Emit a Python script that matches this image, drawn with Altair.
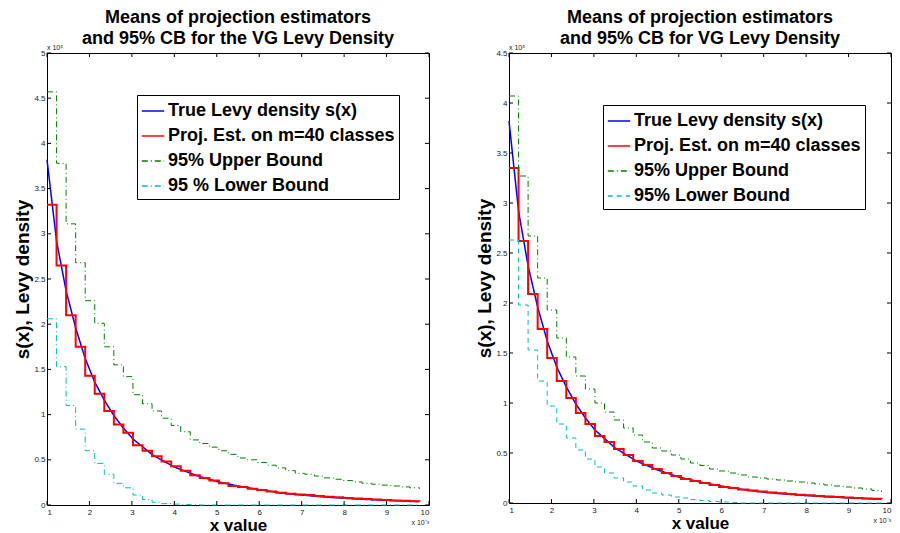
import altair as alt
import pandas as pd

FONT = "Liberation Sans"

# class left edges (m = 40 classes on [1, 10] x 1e-3)
x_cls = [1.0, 1.225, 1.45, 1.675, 1.9, 2.125, 2.35, 2.575, 2.8, 3.025,
         3.25, 3.475, 3.7, 3.925, 4.15, 4.375, 4.6, 4.825, 5.05, 5.275,
         5.5, 5.725, 5.95, 6.175, 6.4, 6.625, 6.85, 7.075, 7.3, 7.525,
         7.75, 7.975, 8.2, 8.425, 8.65, 8.875, 9.1, 9.325, 9.55, 9.775]

# true density sample points
x_true = [1.0, 1.225, 1.45, 1.675, 1.9, 2.125, 2.35, 2.575, 2.8, 3.025,
          3.5, 4.0, 4.5, 5.0, 5.5, 6.0, 6.5, 7.0, 7.5, 8.0, 8.5, 9.0, 9.5, 9.775]

# ---- left panel (values x 1e5)
left_true = [3.82, 2.92, 2.37, 1.96, 1.62, 1.36, 1.16, 0.99, 0.85, 0.73,
             0.55, 0.42, 0.33, 0.26, 0.21, 0.17, 0.135, 0.11, 0.09, 0.075,
             0.062, 0.052, 0.043, 0.038]
left_est = [3.32, 2.65, 2.10, 1.75, 1.43, 1.23, 1.04, 0.89, 0.80, 0.66,
            0.60, 0.54, 0.48, 0.43, 0.38, 0.33, 0.30, 0.27, 0.24, 0.21,
            0.20, 0.18, 0.165, 0.15, 0.135, 0.125, 0.115, 0.11, 0.10, 0.09,
            0.085, 0.078, 0.072, 0.066, 0.06, 0.055, 0.05, 0.046, 0.042, 0.038]
left_up = [4.57, 3.78, 3.11, 2.68, 2.26, 2.01, 1.75, 1.55, 1.42, 1.22,
           1.12, 1.04, 0.96, 0.88, 0.81, 0.72, 0.68, 0.64, 0.60, 0.56,
           0.52, 0.50, 0.47, 0.44, 0.41, 0.38, 0.35, 0.34, 0.32, 0.30,
           0.285, 0.27, 0.255, 0.24, 0.23, 0.22, 0.21, 0.20, 0.19, 0.18]
left_lo = [2.06, 1.53, 1.10, 0.84, 0.60, 0.46, 0.34, 0.24, 0.19, 0.11,
           0.06, 0.03, 0.015, 0.01, 0.005, 0.002, 0.0, 0.0, 0.0, 0.0,
           0.0, 0.0, 0.0, 0.0, 0.0, 0.0, 0.0, 0.0, 0.0, 0.0,
           0.0, 0.0, 0.0, 0.0, 0.0, 0.0, 0.0, 0.0, 0.0, 0.0]

# ---- right panel (values x 1e5)
right_true = [3.82, 2.92, 2.37, 1.96, 1.62, 1.36, 1.16, 0.99, 0.85, 0.73,
              0.55, 0.42, 0.33, 0.26, 0.21, 0.17, 0.135, 0.11, 0.09, 0.075,
              0.062, 0.052, 0.043, 0.038]
right_est = [3.35, 2.62, 2.09, 1.74, 1.45, 1.22, 1.05, 0.90, 0.79, 0.67,
             0.61, 0.54, 0.48, 0.42, 0.38, 0.34, 0.30, 0.27, 0.24, 0.22,
             0.20, 0.18, 0.16, 0.15, 0.135, 0.125, 0.115, 0.105, 0.098, 0.09,
             0.083, 0.077, 0.071, 0.065, 0.06, 0.055, 0.05, 0.046, 0.042, 0.04]
right_up = [4.07, 3.27, 2.67, 2.25, 1.93, 1.65, 1.46, 1.27, 1.14, 1.00,
            0.91, 0.83, 0.75, 0.68, 0.61, 0.55, 0.52, 0.48, 0.44, 0.40,
            0.375, 0.34, 0.32, 0.30, 0.28, 0.26, 0.25, 0.24, 0.23, 0.22,
            0.21, 0.20, 0.19, 0.18, 0.17, 0.16, 0.15, 0.14, 0.125, 0.11]
right_lo = [2.63, 1.98, 1.53, 1.22, 0.97, 0.79, 0.65, 0.53, 0.44, 0.36,
            0.30, 0.25, 0.21, 0.17, 0.13, 0.10, 0.08, 0.06, 0.05, 0.035,
            0.025, 0.015, 0.01, 0.005, 0.0, 0.0, 0.0, 0.0, 0.0, 0.0,
            0.0, 0.0, 0.0, 0.0, 0.0, 0.0, 0.0, 0.0, 0.0, 0.0]

x_ticks = [1, 2, 3, 4, 5, 6, 7, 8, 9, 10]
left_yticks = [0, 0.5, 1, 1.5, 2, 2.5, 3, 3.5, 4, 4.5, 5]
right_yticks = [0, 0.5, 1, 1.5, 2, 2.5, 3, 3.5, 4, 4.5]

left_names = ["True Levy density s(x)", "Proj. Est. on m=40 classes",
              "95% Upper Bound", "95 % Lower Bound"]
right_names = ["True Levy density s(x)", "Proj. Est. on m=40 classes",
               "95% Upper Bound", "95% Lower Bound"]
left_title = ["Means of projection estimators", "and 95% CB for the VG Levy Density"]
right_title = ["Means of projection estimators", "and 95% CB for VG Levy Density"]

COLORS = ["#0000FF", "#FF0000", "#008000", "#00BFBF"]
DASHDOT = [6, 3, 1, 3]


def panel(names, ytrue, est, up, lo, ymax, yticks, lo_dash, title, lx, ly, W, H):
    rows = []
    for x, y in zip(x_true, ytrue):
        rows.append({"x": x, "y": y, "s": names[0]})
    for ser, vals in zip(names[1:], [est, up, lo]):
        for x, y in zip(x_cls, vals):
            rows.append({"x": x, "y": y, "s": ser})
    df = pd.DataFrame(rows)

    xs = alt.Scale(domain=[1, 10], nice=False, zero=False)
    ys = alt.Scale(domain=[0, ymax], nice=False)
    leg = alt.Legend(orient="none", legendX=lx, legendY=ly, title=None,
                     strokeColor="black", fillColor="white", padding=4,
                     labelFont=FONT, labelFontSize=18, labelFontWeight="bold",
                     labelColor="black", symbolType="stroke", symbolSize=500,
                     symbolStrokeWidth=1.5, rowPadding=4, labelOffset=3,
                     labelLimit=400)
    color = alt.Color("s:N", scale=alt.Scale(domain=names, range=COLORS), legend=leg)
    dash = alt.StrokeDash("s:N", scale=alt.Scale(domain=names,
                          range=[[1, 0], [1, 0], DASHDOT, lo_dash]), legend=leg)

    xaxis = alt.Axis(values=x_ticks, format="d", title="x value", titleFont=FONT,
                     titleFontSize=17, titleFontWeight="bold", titleColor="black",
                     labelFont=FONT, labelFontSize=8, labelColor="#222",
                     ticks=False, domain=False, grid=False, labelPadding=3,
                     titlePadding=1)
    yaxis = alt.Axis(values=yticks, format="~g", title="s(x), Levy density",
                     titleFont=FONT, titleFontSize=19, titleFontWeight="bold",
                     titleColor="black", labelFont=FONT, labelFontSize=8,
                     labelColor="#222", ticks=False, domain=False, grid=False,
                     labelPadding=2, titlePadding=1)

    layers = []
    for i, (ser, interp, sw) in enumerate(zip(names, ["linear", "step-after", "step-after", "step-after"],
                                               [1.5, 2, 1, 1])):
        enc = dict(
            x=alt.X("x:Q", scale=xs, axis=xaxis),
            y=alt.Y("y:Q", scale=ys, axis=yaxis),
            color=color, strokeDash=dash, order="x:Q")
        layers.append(alt.Chart(df).transform_filter(alt.datum.s == ser)
                      .mark_line(interpolate=interp, strokeWidth=sw).encode(**enc))

    xt = pd.DataFrame({"t": x_ticks})
    yt = pd.DataFrame({"t": yticks})
    TL = 4
    layers.append(alt.Chart(xt).mark_rule(color="black", strokeWidth=1).encode(
        x=alt.X("t:Q", scale=xs, axis=xaxis), y=alt.value(H), y2=alt.value(H - TL)))
    layers.append(alt.Chart(xt).mark_rule(color="black", strokeWidth=1).encode(
        x=alt.X("t:Q", scale=xs, axis=xaxis), y=alt.value(0), y2=alt.value(TL)))
    layers.append(alt.Chart(yt).mark_rule(color="black", strokeWidth=1).encode(
        y=alt.Y("t:Q", scale=ys, axis=yaxis), x=alt.value(0), x2=alt.value(TL)))
    layers.append(alt.Chart(yt).mark_rule(color="black", strokeWidth=1).encode(
        y=alt.Y("t:Q", scale=ys, axis=yaxis), x=alt.value(W), x2=alt.value(W - TL)))

    one = pd.DataFrame({"a": [0]})
    layers.append(alt.Chart(one).mark_text(font=FONT, fontSize=7, align="left",
                                           baseline="alphabetic", color="#222").encode(
        x=alt.value(0), y=alt.value(-3), text=alt.value("x 10⁵")))
    layers.append(alt.Chart(one).mark_text(font=FONT, fontSize=7, align="right",
                                           baseline="alphabetic", color="#222").encode(
        x=alt.value(W), y=alt.value(H + 20), text=alt.value("x 10⁻³")))

    return alt.layer(*layers).properties(
        width=W, height=H,
        title=alt.TitleParams(text=title, font=FONT, fontSize=18, fontWeight="bold",
                              color="black", anchor="middle", lineHeight=21, offset=-4))


left = panel(left_names, left_true, left_est, left_up, left_lo, 5, left_yticks,
             DASHDOT, left_title, 90, 42, 382, 452)
right = panel(right_names, right_true, right_est, right_up, right_lo, 4.5, right_yticks,
              [5, 4], right_title, 94, 52, 382, 450)

chart = alt.hconcat(left, right, spacing=45).resolve_scale(
    color="independent", strokeDash="independent"
).resolve_legend(color="independent", strokeDash="independent").properties(
    padding={"left": 5, "top": 0, "right": 0, "bottom": 0},
    background="white"
).configure_view(stroke="black", strokeWidth=1)

chart.save("out.html", embed_options={"renderer": "svg", "actions": False})
